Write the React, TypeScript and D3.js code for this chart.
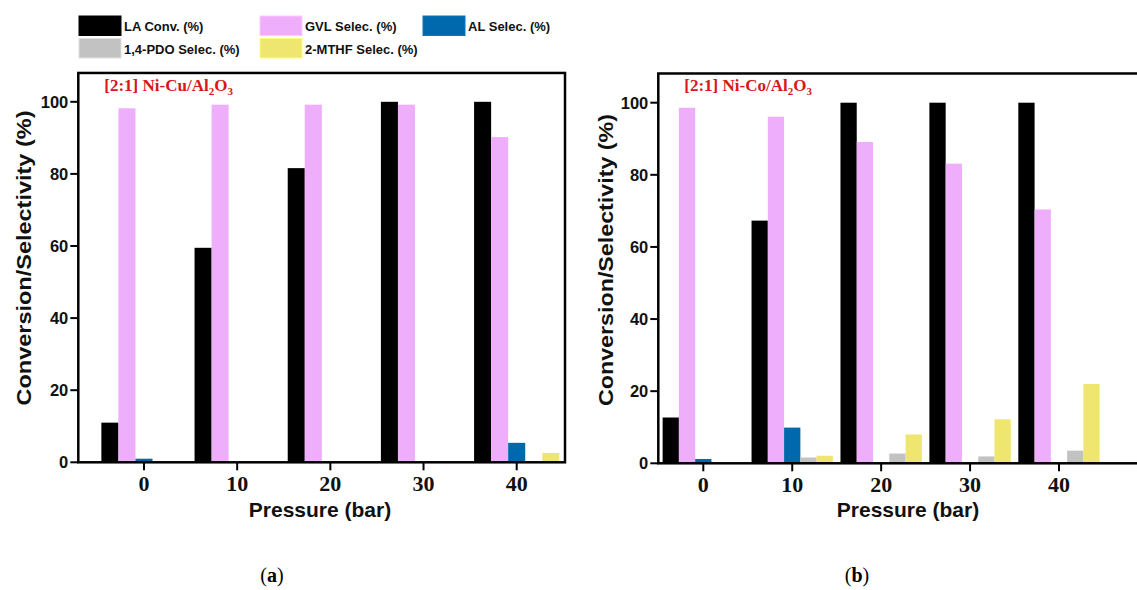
import React from "react";
import * as d3 from "d3";

// Pressure categories and axis ticks
const pressures = [0, 10, 20, 30, 40];
const xTicks = [0, 10, 20, 30, 40];
const yTicks = [0, 20, 40, 60, 80, 100];

// Series (bar order inside each pressure group)
const seriesNames = [
  "LA Conv. (%)",
  "GVL Selec. (%)",
  "AL Selec. (%)",
  "1,4-PDO Selec. (%)",
  "2-MTHF Selec. (%)",
];
const seriesColors = ["#000000", "#EEAEFB", "#0068AC", "#C2C2C2", "#EEE66E"];

// [2:1] Ni-Cu/Al2O3
const niCuLA = [11, 59.5, 81.6, 100, 100];
const niCuGVL = [98.2, 99.2, 99.2, 99.2, 90.2];
const niCuAL = [1.0, 0, 0, 0, 5.4];
const niCuPDO = [0, 0, 0, 0, 0];
const niCuMTHF = [0, 0, 0, 0, 2.6];

// [2:1] Ni-Co/Al2O3
const niCoLA = [12.7, 67.3, 100, 100, 100];
const niCoGVL = [98.6, 96.1, 89.1, 83.1, 70.4];
const niCoAL = [1.2, 9.9, 0, 0, 0];
const niCoPDO = [0, 1.6, 2.7, 1.9, 3.5];
const niCoMTHF = [0, 2.1, 8.0, 12.2, 22.0];

const SANS = "'Liberation Sans', Arial, sans-serif";
const SERIF = "'Liberation Serif', 'Times New Roman', serif";

type PanelProps = {
  series: number[][];
  metal: string;
  tickPx: [number, number]; // pixel positions of pressure 0 and 40
  frameLeft: number;
  frameRight: number;
  yPx: [number, number]; // pixel positions of 0 % and 100 %
  frameTopValue: number;
  yLabelX: number;
  yLabelY: number;
  yLabelLen: number;
  xLabelX: number;
  caption: string;
  captionX: number;
};

function Panel(p: PanelProps) {
  const x = d3.scaleLinear().domain([0, 40]).range(p.tickPx);
  const y = d3.scaleLinear().domain([0, 100]).range(p.yPx);
  const barW = 1.83; // bar width in pressure units
  const nSeries = p.series.length;
  const groupOffset = (-nSeries * barW) / 2;
  const top = y(p.frameTopValue);
  const bottom = y(0);
  const tickLen = 8;

  return (
    <g>
      {/* bars */}
      {p.series.map((vals, si) =>
        vals.map((v, gi) => {
          if (v <= 0) return null;
          const x0 = x(pressures[gi] + groupOffset + si * barW);
          const x1 = x(pressures[gi] + groupOffset + (si + 1) * barW);
          return (
            <rect
              key={`${si}-${gi}`}
              x={x0}
              y={y(v)}
              width={x1 - x0}
              height={bottom - y(v)}
              fill={seriesColors[si]}
            />
          );
        })
      )}

      {/* frame */}
      <rect
        x={p.frameLeft}
        y={top}
        width={p.frameRight - p.frameLeft}
        height={bottom - top}
        fill="none"
        stroke="#000"
        strokeWidth={2.5}
      />

      {/* y axis ticks */}
      {yTicks.map((t) => (
        <g key={`y${t}`}>
          <line
            x1={p.frameLeft - tickLen}
            x2={p.frameLeft}
            y1={y(t)}
            y2={y(t)}
            stroke="#000"
            strokeWidth={2}
          />
          <text
            x={p.frameLeft - tickLen - 2}
            y={y(t)}
            textAnchor="end"
            dominantBaseline="central"
            fontFamily={SANS}
            fontWeight="bold"
            fontSize={16.5}
            fill="#111"
          >
            {t}
          </text>
        </g>
      ))}

      {/* x axis ticks */}
      {xTicks.map((t) => (
        <g key={`x${t}`}>
          <line
            x1={x(t)}
            x2={x(t)}
            y1={bottom}
            y2={bottom + tickLen}
            stroke="#000"
            strokeWidth={2}
          />
          <text
            x={x(t)}
            y={bottom + 29}
            textAnchor="middle"
            fontFamily={SERIF}
            fontWeight="bold"
            fontSize={22}
            fill="#111"
          >
            {t}
          </text>
        </g>
      ))}

      {/* catalyst tag */}
      <text
        x={p.frameLeft + 26}
        y={top + 18}
        fontFamily={SERIF}
        fontWeight="bold"
        fontSize={17}
        fill="#D8161B"
      >
        {`[2:1] ${p.metal}/Al`}
        <tspan fontSize={11} dy={4}>2</tspan>
        <tspan dy={-4}>O</tspan>
        <tspan fontSize={11} dy={4}>3</tspan>
      </text>

      {/* axis titles */}
      <text
        transform={`translate(${p.yLabelX},${p.yLabelY}) rotate(-90)`}
        textAnchor="middle"
        dominantBaseline="central"
        fontFamily={SANS}
        fontWeight="bold"
        fontSize={21}
        textLength={p.yLabelLen}
        lengthAdjust="spacingAndGlyphs"
        fill="#111"
      >
        Conversion/Selectivity (%)
      </text>
      <text
        x={p.xLabelX}
        y={517}
        textAnchor="middle"
        fontFamily={SANS}
        fontWeight="bold"
        fontSize={21}
        fill="#111"
      >
        Pressure (bar)
      </text>

      {/* sub-figure caption */}
      <text
        x={p.captionX}
        y={582}
        textAnchor="middle"
        fontFamily={SERIF}
        fontSize={20}
        fill="#000"
      >
        (<tspan fontWeight="bold">{p.caption}</tspan>)
      </text>
    </g>
  );
}

function Legend() {
  const cols = [79, 260, 423];
  const rows = [16, 38.5];
  const slots = [
    [0, 0],
    [1, 0],
    [2, 0],
    [0, 1],
    [1, 1],
  ];
  return (
    <g>
      {seriesNames.map((name, i) => {
        const [c, r] = slots[i];
        return (
          <g key={name} transform={`translate(${cols[c]},${rows[r]})`}>
            <rect
              width={42}
              height={19.5}
              fill={seriesColors[i]}
              stroke={d3.color(seriesColors[i])!.brighter(0.4).formatHex()}
              strokeWidth={1}
            />
            <text
              x={45}
              y={15}
              fontFamily={SANS}
              fontWeight="bold"
              fontSize={13}
              fill="#111"
            >
              {name}
            </text>
          </g>
        );
      })}
    </g>
  );
}

export default function App() {
  return (
    <svg
      width={1137}
      height={590}
      style={{ position: "absolute", left: 0, top: 0, background: "#fff" }}
    >
      <Legend />
      <Panel
        series={[niCuLA, niCuGVL, niCuAL, niCuPDO, niCuMTHF]}
        metal="Ni-Cu"
        tickPx={[144, 516.7]}
        frameLeft={78.3}
        frameRight={565}
        yPx={[462.3, 101.8]}
        frameTopValue={108}
        yLabelX={23}
        yLabelY={258}
        yLabelLen={295}
        xLabelX={320}
        caption="a"
        captionX={272}
      />
      <Panel
        series={[niCoLA, niCoGVL, niCoAL, niCoPDO, niCoMTHF]}
        metal="Ni-Co"
        tickPx={[703.3, 1059]}
        frameLeft={658.3}
        frameRight={1142}
        yPx={[463.3, 102.7]}
        frameTopValue={108.1}
        yLabelX={605}
        yLabelY={260}
        yLabelLen={292}
        xLabelX={908}
        caption="b"
        captionX={857}
      />
    </svg>
  );
}
